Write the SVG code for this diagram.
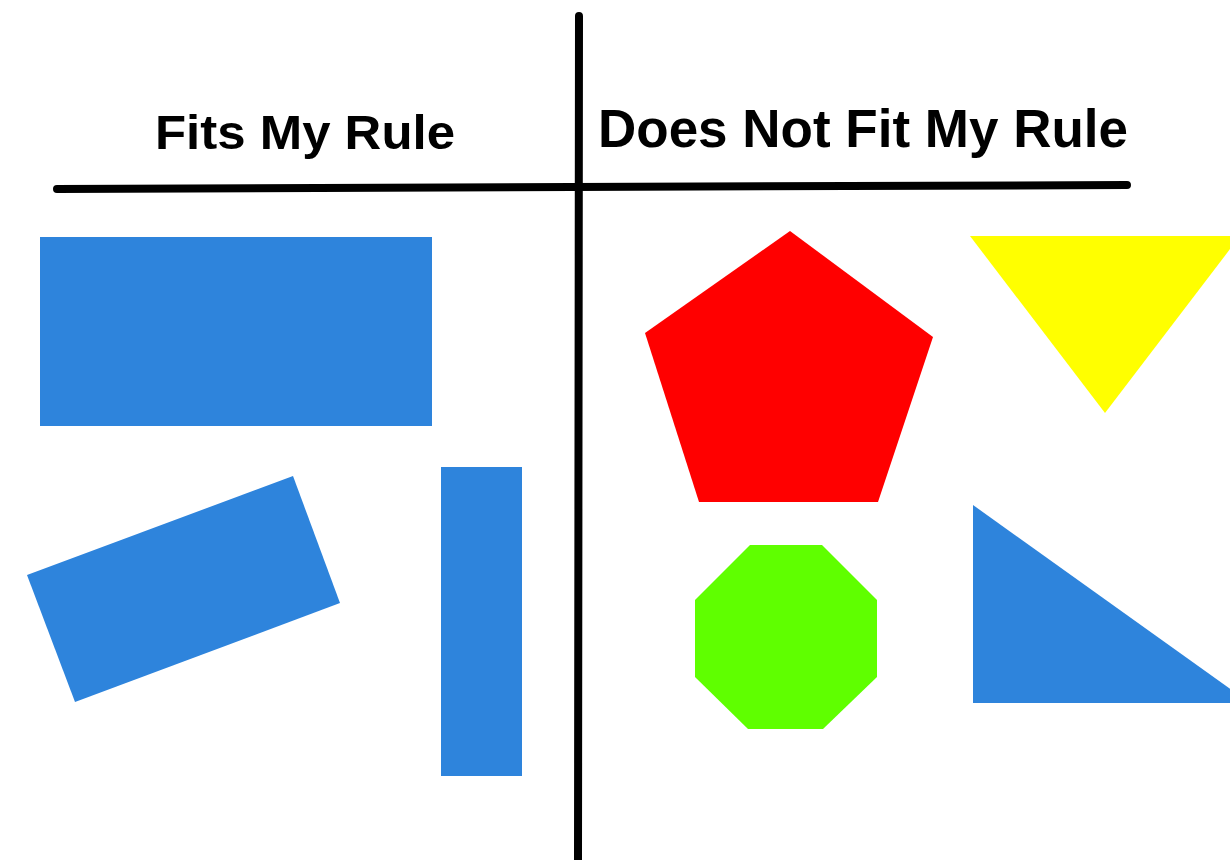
<svg xmlns="http://www.w3.org/2000/svg" width="1230" height="860" viewBox="0 0 1230 860">
<style>
.title{font-family:"Liberation Sans",Arial,sans-serif;font-weight:bold;fill:#000}
.blue{fill:#2E84DC}
.rule{stroke:#000;stroke-width:8;stroke-linecap:round;fill:none}
</style>
<rect width="1230" height="860" fill="#fff"/>
<g id="lines">
<line class="rule" x1="579" y1="16" x2="578" y2="862"/>
<line class="rule" x1="57" y1="189" x2="1127" y2="185"/>
</g>
<g id="title-fits"><text class="title" x="155" y="149" font-size="49" textLength="300" lengthAdjust="spacingAndGlyphs">Fits My Rule</text></g>
<g id="title-not"><text class="title" x="598" y="147" font-size="53" textLength="530" lengthAdjust="spacingAndGlyphs">Does Not Fit My Rule</text></g>
<g id="rect-wide"><rect class="blue" x="40" y="237" width="392" height="189"/></g>
<g id="rect-tilted"><polygon class="blue" points="27,575 293,476 340,603 75,702"/></g>
<g id="rect-tall"><rect class="blue" x="441" y="467" width="81" height="309"/></g>
<g id="pentagon"><polygon fill="#FF0000" points="790,231 933,337 878,502 699,502 645,333"/></g>
<g id="triangle-yellow"><polygon fill="#FFFF00" points="970,236 1240,236 1105,413"/></g>
<g id="octagon"><polygon fill="#5FFF00" points="750,545 822,545 877,600 877,677 823,729 748,729 695,677 695,600"/></g>
<g id="triangle-blue"><polygon class="blue" points="973,505 1250,703 973,703"/></g>
</svg>
